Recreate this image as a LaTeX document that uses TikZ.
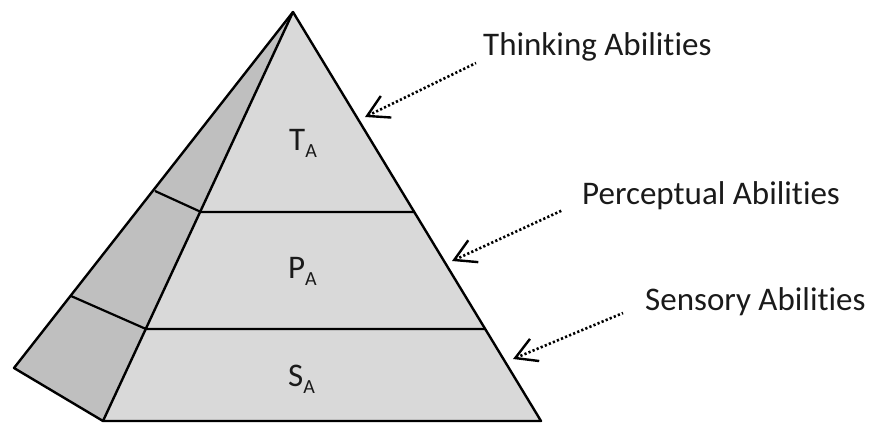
\documentclass[tikz,border=0pt]{standalone}
\usepackage{fontspec}
\setmainfont{Carlito}[Ligatures=NoCommon]
\usetikzlibrary{arrows.meta}
\definecolor{frontgray}{HTML}{D9D9D9}
\definecolor{sidegray}{HTML}{BFBFBF}
\definecolor{textgray}{HTML}{1A1A1A}
\newcommand{\subA}{\raisebox{-7pt}{\fontsize{20}{20}\selectfont A}}

\begin{document}
\begin{tikzpicture}[x=1pt, y=-1pt,
    face/.style={draw, line width=2.4pt, line join=round},
    band/.style={line width=2.2pt},
    layer/.style={font=\fontsize{33}{36}\selectfont, text=textgray, anchor=base west, inner sep=0pt},
    label/.style={font=\fontsize{33}{36}\selectfont, text=textgray, anchor=base west, inner sep=0pt},
    pointer/.style={{Straight Barb[length=21pt, width=24pt, line width=2.4pt]}-, line width=2.6pt, dash pattern=on 2.2pt off 2.2pt},
]
\useasboundingbox (0,0) rectangle (871,425);

% corners of the pyramid
\coordinate (apex) at (293, 12);
\coordinate (backL) at (14, 368);
\coordinate (frontL) at (103, 421);
\coordinate (frontR) at (541, 421);

\fill[sidegray] (apex) -- (backL) -- (frontL) -- cycle;
\fill[frontgray] (apex) -- (frontL) -- (frontR) -- cycle;
\draw[face] (apex) -- (backL) -- (frontL) -- (frontR) -- cycle;
\draw[face] (apex) -- (frontL);

% layer borders
\draw[band] (155, 191) -- (201, 212) -- (414, 212);
\draw[band] (71, 296) -- (146, 329) -- (485, 329);

\node[layer] (layerT) at (289, 151) {T\subA};
\node[layer] (layerP) at (288, 278) {P\subA};
\node[layer] (layerS) at (288, 386) {S\subA};

\node[label] (lblT) at (483, 56) {Thinking Abilities};
\node[label] (lblP) at (582, 205) {Perceptual Abilities};
\node[label] (lblS) at (645, 310) {Sensory Abilities};

\coordinate (fromT) at (476, 63);
\coordinate (tipT) at (365, 117);
\coordinate (fromP) at (563, 210);
\coordinate (tipP) at (452, 261);
\coordinate (fromS) at (623, 313);
\coordinate (tipS) at (513, 359);

\draw[pointer] (tipT) -- (fromT);
\draw[pointer] (tipP) -- (fromP);
\draw[pointer] (tipS) -- (fromS);

\end{tikzpicture}
\end{document}
